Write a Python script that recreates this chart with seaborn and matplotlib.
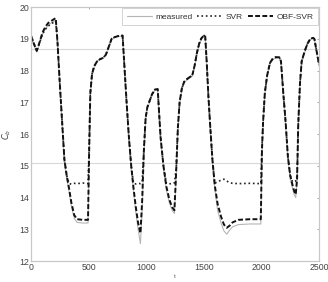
import matplotlib
matplotlib.use('Agg')

import matplotlib.pyplot as plt
import seaborn as sns

# time points (shared by all three series)
t = [0, 25, 50, 75, 100, 125, 150, 175, 200, 215, 230, 250, 270, 290, 310, 330, 350, 375, 400, 450, 495,
     505, 515, 530, 550, 575, 600, 625, 650, 675, 700, 725, 750, 775, 795,
     810, 830, 850, 870, 890, 910, 930, 950,
     965, 980, 995, 1010, 1030, 1050, 1075, 1100,
     1110, 1125, 1150, 1175, 1200, 1225, 1245,
     1260, 1275, 1290, 1310, 1330, 1360, 1400, 1420, 1440, 1460, 1480, 1500, 1512,
     1525, 1540, 1555, 1575, 1595, 1620, 1650, 1675, 1700, 1725, 1750, 1800, 1900, 1995,
     2005, 2015, 2030, 2050, 2075, 2100, 2125, 2155,
     2170, 2190, 2210, 2230, 2250, 2270, 2285, 2298,
     2310, 2320, 2335, 2350, 2375, 2400, 2425, 2450, 2460, 2480, 2500]

measured = [19.05, 18.8, 18.58, 18.85, 19.15, 19.32, 19.42, 19.5, 19.55, 19.58, 18.85, 17.5, 16.3, 15.1, 14.6, 14.2, 13.75, 13.35, 13.22, 13.2, 13.2,
            15.3, 17.2, 17.85, 18.1, 18.28, 18.35, 18.4, 18.48, 18.72, 18.98, 19.04, 19.07, 19.08, 19.08,
            18.1, 16.9, 15.8, 14.9, 14.2, 13.55, 13.0, 12.55,
            13.6, 15.3, 16.45, 16.8, 17.0, 17.22, 17.38, 17.4,
            16.7, 15.8, 14.9, 14.25, 13.85, 13.6, 13.5,
            14.6, 16.1, 16.95, 17.4, 17.62, 17.72, 17.82, 18.12, 18.52, 18.82, 19.0, 19.08, 19.08,
            18.2, 17.1, 16.2, 15.1, 14.3, 13.6, 13.2, 12.95, 12.85, 12.98, 13.08, 13.15, 13.17, 13.17,
            15.3, 16.3, 17.25, 17.8, 18.2, 18.35, 18.4, 18.4,
            18.25, 17.2, 16.3, 15.2, 14.6, 14.3, 14.1, 14.0,
            14.5, 16.2, 17.5, 18.25, 18.55, 18.82, 18.98, 19.02, 18.98, 18.55, 18.15]

svr = [19.1, 18.85, 18.62, 18.88, 19.15, 19.3, 19.4, 19.48, 19.52, 19.55, 18.9, 17.6, 16.4, 15.2, 14.7, 14.45, 14.42, 14.45, 14.44, 14.46, 14.44,
       15.6, 17.3, 17.9, 18.15, 18.3, 18.36, 18.4, 18.5, 18.75, 19.0, 19.05, 19.08, 19.1, 19.1,
       18.2, 17.0, 15.9, 15.0, 14.45, 14.43, 14.45, 14.44,
       14.5, 15.5, 16.5, 16.85, 17.05, 17.25, 17.4, 17.42,
       16.8, 15.9, 15.0, 14.45, 14.43, 14.45, 14.46,
       14.9, 16.2, 17.0, 17.45, 17.65, 17.75, 17.85, 18.15, 18.55, 18.85, 19.02, 19.1, 19.1,
       18.3, 17.2, 16.3, 15.2, 14.45, 14.5, 14.55, 14.58, 14.52, 14.47, 14.45, 14.44, 14.45, 14.44,
       15.6, 16.4, 17.3, 17.85, 18.25, 18.38, 18.42, 18.42,
       18.3, 17.3, 16.4, 15.3, 14.7, 14.5, 14.5, 14.52,
       14.7, 16.3, 17.6, 18.3, 18.6, 18.85, 19.0, 19.03, 19.0, 18.6, 18.2]

obf_svr = [19.1, 18.85, 18.62, 18.9, 19.2, 19.38, 19.5, 19.56, 19.62, 19.65, 18.9, 17.6, 16.4, 15.2, 14.7, 14.3, 13.85, 13.45, 13.32, 13.3, 13.3,
           15.5, 17.3, 17.9, 18.15, 18.3, 18.36, 18.4, 18.5, 18.75, 19.0, 19.05, 19.08, 19.1, 19.1,
           18.2, 17.0, 15.9, 15.0, 14.3, 13.7, 13.2, 12.88,
           13.9, 15.5, 16.5, 16.85, 17.05, 17.25, 17.4, 17.42,
           16.8, 15.9, 15.0, 14.35, 13.95, 13.7, 13.6,
           14.8, 16.2, 17.0, 17.45, 17.65, 17.75, 17.85, 18.15, 18.55, 18.85, 19.02, 19.1, 19.1,
           18.3, 17.2, 16.3, 15.2, 14.4, 13.8, 13.4, 13.15, 13.05, 13.12, 13.22, 13.3, 13.32, 13.32,
           15.5, 16.4, 17.3, 17.85, 18.25, 18.38, 18.42, 18.42,
           18.3, 17.3, 16.4, 15.3, 14.7, 14.4, 14.2, 14.1,
           14.6, 16.3, 17.6, 18.3, 18.6, 18.85, 19.0, 19.03, 19.0, 18.6, 18.2]

xticks = [0, 500, 1000, 1500, 2000, 2500]
yticks = [12, 13, 14, 15, 16, 17, 18, 19, 20]
ref_levels = [18.68, 15.09]

sns.set_style('white')
plt.rcParams['font.family'] = ['Liberation Sans Narrow', 'Liberation Sans', 'DejaVu Sans']

fig = plt.figure(figsize=(3.28, 2.82), dpi=100)
ax = fig.add_axes([0.0945, 0.074, 0.878, 0.901])

for lvl in ref_levels:
    ax.axhline(lvl, color='#d8d8d8', lw=0.8, zorder=0)

sns.lineplot(x=t, y=measured, ax=ax, color='#b5b5b5', lw=0.8, label='measured')
sns.lineplot(x=t, y=svr, ax=ax, color='#222222', lw=1.2, linestyle=':', label='SVR')
sns.lineplot(x=t, y=obf_svr, ax=ax, color='#111111', lw=1.4, linestyle=(0, (2.5, 1.2)), label='OBF-SVR')

ax.set_xlim(0, 2500)
ax.set_ylim(12, 20)
ax.set_xticks(xticks)
ax.set_yticks(yticks)
ax.tick_params(direction='in', length=1.5, width=0.6, colors='#999999', labelcolor='#444444',
               labelsize=6.3, pad=1.5, top=True, right=True)
for s in ax.spines.values():
    s.set_color('#c8c8c8')
    s.set_linewidth(0.9)

ax.set_xlabel('t', fontsize=4.5, color='#555555', labelpad=1)
ax.set_ylabel(r'$C_b$', fontsize=6, color='#444444', labelpad=4)

leg = ax.legend(loc='upper right', ncol=3, fontsize=6, handlelength=3.0, columnspacing=0.6,
                handletextpad=0.4, borderaxespad=0.15, fancybox=False, framealpha=1,
                edgecolor='#cccccc', borderpad=0.55)
leg.get_frame().set_linewidth(0.6)
for txt in leg.get_texts():
    txt.set_color('#333333')

fig.savefig('out.png', dpi=100)
